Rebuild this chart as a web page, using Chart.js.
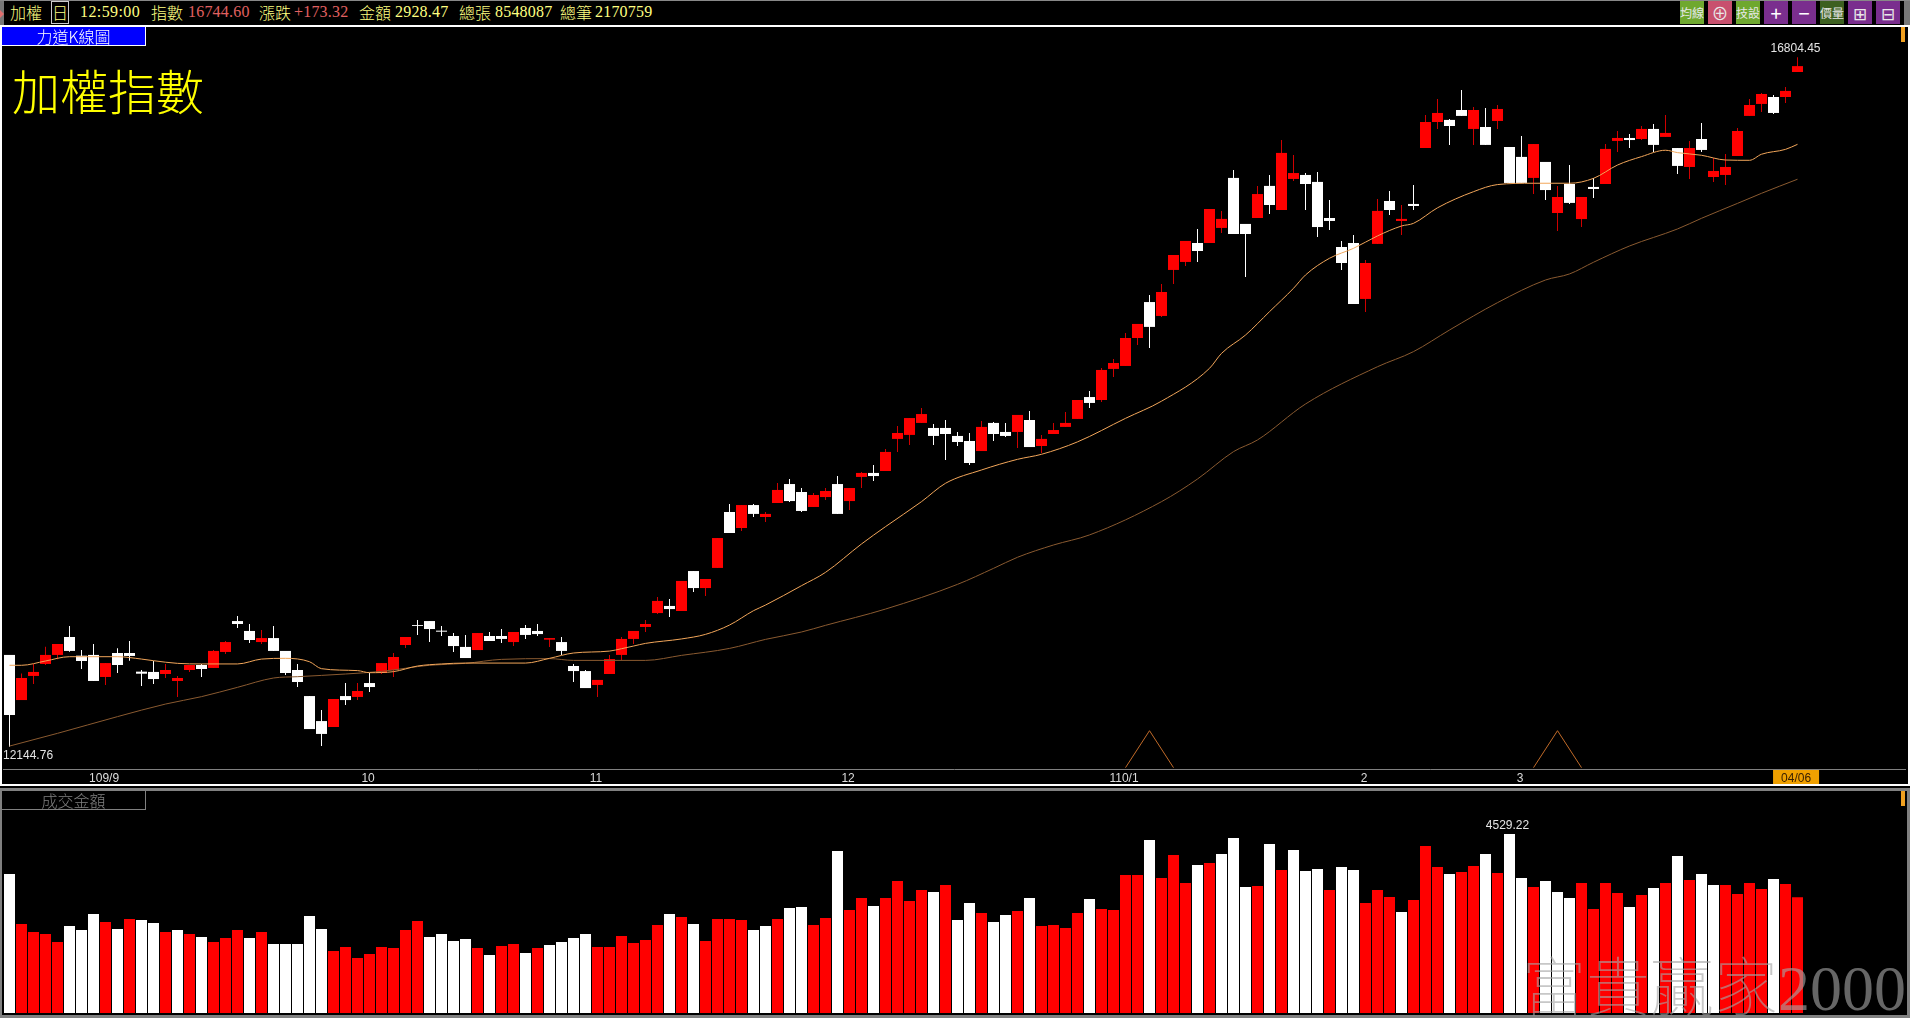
<!DOCTYPE html>
<html>
<head>
<meta charset="utf-8">
<title>加權指數</title>
<script src="https://cdn.jsdelivr.net/npm/chart.js@4/dist/chart.umd.js"></script>
<style>
  html, body { margin: 0; background: #000; overflow: hidden; }
  #page { position: relative; width: 1910px; height: 1018px; background: #000; overflow: hidden; }
  canvas { position: absolute; left: 0; }
  #priceChart { top: 27px; }
  #volChart { top: 791px; }
  .t { position: absolute; top: 3px; height: 18px; line-height: 18px; white-space: nowrap; font-size: 16px; color: #ffff80;
       font-family: "Noto Sans CJK TC", sans-serif; font-weight: 300; }
  .n { font-family: "Liberation Serif", serif; font-size: 16px; font-weight: 400; letter-spacing: 0.2px; }
  .dn { color: #e06060; }
  .btn { position: absolute; top: 1px; width: 24px; height: 23px; line-height: 23px; text-align: center; color: #e8e8e8; font-size: 14px;
         font-family: "Noto Sans CJK TC", sans-serif; overflow: hidden; }
  .frame { position: absolute; box-sizing: border-box; pointer-events: none; }
  .marker { position: absolute; left: 1901px; width: 4px; height: 15px; background: #f0a020; }
</style>
</head>
<body>
<div id="page">
  <canvas id="priceChart" width="1910" height="759"></canvas>
  <canvas id="volChart" width="1910" height="222"></canvas>

  <div class="frame" style="left:0;top:0;width:1910px;height:1px;background:#888"></div>
  <div class="frame" style="left:0;top:1px;width:4px;height:24px;background:#777"></div>
  <div class="frame" style="left:0;top:10px;width:0;height:0;border-left:4px solid #e07070;border-top:4px solid transparent;border-bottom:4px solid transparent"></div>
  <div class="frame" style="left:0;top:25px;width:1910px;height:761px;border:2px solid #fff"></div>
  <div class="frame" style="left:0;top:788px;width:1910px;height:230px;border:3px solid #808080;border-left-width:2px"></div>

  <span class="t" style="left:10px">加權</span>
  <div class="frame" style="left:51px;top:1px;width:18px;height:23px;border:1px solid #ccc"></div>
  <span class="t" style="left:52px">日</span>
  <span class="t n" style="left:80px;letter-spacing:0.4px">12:59:00</span>
  <span class="t" style="left:151px">指數</span>
  <span class="t n dn" style="left:188px">16744.60</span>
  <span class="t" style="left:259px">漲跌</span>
  <span class="t n dn" style="left:294px">+173.32</span>
  <span class="t" style="left:359px">金額</span>
  <span class="t n" style="left:395px">2928.47</span>
  <span class="t" style="left:459px">總張</span>
  <span class="t n" style="left:495px">8548087</span>
  <span class="t" style="left:560px">總筆</span>
  <span class="t n" style="left:595px">2170759</span>

  <div class="btn" style="left:1680px;background:#6fa82f;font-size:12px">均線</div>
  <div class="btn" style="left:1708px;background:#c8506e;font-size:17px">⊕</div>
  <div class="btn" style="left:1736px;background:#6fa82f;font-size:12px">技設</div>
  <div class="btn" style="left:1764px;background:#7a2e8e;font-size:20px;color:#fff">+</div>
  <div class="btn" style="left:1792px;background:#7a2e8e;font-size:20px;color:#fff">−</div>
  <div class="btn" style="left:1820px;background:#3d6020;font-size:12px">價量</div>
  <div class="btn" style="left:1848px;background:#7a2e8e;font-size:17px">⊞</div>
  <div class="btn" style="left:1876px;background:#7a2e8e;font-size:17px">⊟</div>
  <div class="frame" style="left:1904px;top:1px;width:6px;height:24px;background:#777"></div>

  <div style="position:absolute;left:2px;top:27px;width:144px;height:19px;box-sizing:border-box;background:#0000ff;border-right:1px solid #fff;border-bottom:1px solid #fff;color:#fff;text-align:center;font:300 16px/18px 'Noto Sans CJK TC',sans-serif">力道K線圖</div>
  <div style="position:absolute;left:12px;top:59px;color:#ffff00;font:300 48px/60px 'Noto Sans CJK TC',sans-serif;white-space:nowrap">加權指數</div>
  <div class="marker" style="top:27px"></div>

  <div style="position:absolute;left:2px;top:791px;width:144px;height:19px;box-sizing:border-box;border-right:1px solid #808080;border-bottom:1px solid #808080;color:#808080;text-align:center;font:300 16px/18px 'Noto Sans CJK TC',sans-serif">成交金額</div>
  <div class="marker" style="top:791px"></div>

  <div style="position:absolute;left:1522px;top:944px;color:rgba(165,165,165,.62);font:100 64px/76px 'Noto Sans CJK TC',serif;white-space:nowrap">富貴贏家<span style="font-family:'Liberation Serif',serif;font-weight:400">2000</span></div>
</div>

<script>
// daily candles (index points)
const openVals = [12765,12460,12623,12704,12765,12886,12760,12765,12616,12778,
  12778,12652,12650,12636,12589,12663,12697,12677,12785,12994,
  12927,12852,12879,12792,12663,12487,12318,12278,12487,12481,
  12575,12643,12663,12832,12967,12994,12929,12893,12819,12798,
  12893,12893,12852,12947,12927,12868,12852,12690,12656,12562,
  12636,12765,12873,12954,13048,13096,13062,13332,13217,13353,
  13731,13623,13778,13697,13792,13920,13866,13765,13832,13920,
  13805,13968,13995,14008,14225,14252,14333,14299,14299,14245,
  14211,14143,14333,14272,14272,14353,14177,14258,14306,14360,
  14508,14488,14698,14718,14907,15150,15056,15367,15421,15549,
  15549,15651,15989,15678,15718,15935,15772,15982,16009,15962,
  15718,15522,15549,15171,15543,15833,15698,15813,16191,16367,
  16381,16448,16320,16333,16374,16198,16131,15989,16097,15752,
  15948,15711,15928,15948,16239,16259,16252,16320,16266,16191,
  16063,16252,15995,16009,16137,16408,16489,16536,16536,16705];
const highVals = [12765,12640,12704,12821,12839,12961,12798,12839,12710,12810,
  12859,12663,12724,12704,12623,12697,12704,12798,12859,13028,
  12974,12934,12961,12792,12704,12487,12393,12467,12575,12575,
  12643,12710,12778,12886,13001,12994,12961,12913,12900,12913,
  12920,12940,12920,12967,12974,12879,12886,12704,12663,12596,
  12765,12886,12927,13001,13157,13143,13265,13332,13278,13555,
  13785,13778,13785,13731,13927,13954,13893,13860,13893,13974,
  13893,14001,14049,14157,14312,14366,14434,14326,14353,14272,
  14265,14346,14339,14333,14387,14414,14252,14333,14407,14488,
  14549,14704,14765,14941,15002,15198,15272,15468,15563,15644,
  15779,15766,16043,15678,15935,16009,16245,16144,16022,16029,
  15840,15563,15603,15434,15847,15901,15806,15941,16414,16523,
  16387,16583,16468,16462,16482,16198,16272,16218,16097,15935,
  16076,15860,15989,16218,16306,16286,16340,16354,16414,16191,
  16239,16360,16124,16151,16327,16523,16563,16550,16604,16804.45];
const lowVals = [12144.76,12460,12569,12697,12735,12787,12670,12589,12562,12643,
  12726,12555,12569,12609,12481,12650,12616,12677,12771,12947,
  12846,12839,12792,12629,12548,12264,12150,12278,12427,12460,
  12514,12636,12616,12812,12900,12852,12893,12785,12744,12798,
  12859,12846,12825,12873,12893,12819,12765,12582,12541,12481,
  12636,12731,12839,12920,13042,13021,13062,13190,13163,13353,
  13589,13603,13697,13663,13792,13799,13731,13765,13812,13718,
  13745,13893,13941,14008,14137,14184,14333,14184,14083,14177,
  14049,14143,14211,14238,14164,14170,14130,14258,14306,14360,
  14434,14475,14644,14718,14860,14840,15049,15272,15394,15421,
  15549,15617,15610,15319,15718,15745,15772,15968,15772,15590,
  15637,15367,15137,15083,15543,15738,15603,15772,16191,16320,
  16212,16408,16212,16212,16320,15955,15955,15880,15840,15630,
  15813,15657,15853,15948,16164,16191,16245,16164,16266,16016,
  15982,16164,15962,15941,16137,16408,16435,16421,16496,16705];
const closeVals = [12359,12609,12650,12765,12839,12792,12724,12589,12710,12697,
  12758,12638,12602,12663,12609,12697,12670,12792,12852,12974,
  12866,12879,12792,12643,12582,12264,12231,12467,12460,12521,
  12548,12710,12751,12886,12961,12940,12922,12825,12744,12913,
  12859,12873,12920,12900,12906,12879,12792,12656,12541,12596,
  12737,12873,12927,12974,13130,13075,13265,13217,13278,13555,
  13589,13778,13718,13718,13880,13805,13738,13846,13873,13718,
  13893,13995,13974,14137,14265,14366,14393,14245,14258,14204,
  14062,14306,14258,14245,14387,14170,14225,14285,14333,14488,
  14468,14691,14738,14907,15002,14982,15218,15468,15563,15495,
  15779,15712,15610,15610,15880,15806,16158,16022,15948,15657,
  15698,15414,15137,15414,15766,15772,15712,15799,16367,16428,
  16340,16408,16448,16212,16455,15955,15955,16218,15907,15860,
  15820,15860,15914,16185,16259,16245,16320,16212,16293,16070,
  16191,16178,16036,16063,16306,16482,16556,16428,16577,16744.60];

// turnover (億) and whether the bar is drawn red
const volumeVals = [3517,2252,2049,1999,1797,2201,2100,2505,2303,2125,
  2378,2353,2277,2049,2100,1999,1923,1797,1898,2100,
  1898,2049,1746,1746,1746,2454,2125,1569,1670,1392,
  1493,1670,1645,2100,2328,1923,1999,1822,1873,1645,
  1468,1695,1746,1518,1645,1721,1797,1898,1999,1670,
  1670,1948,1771,1847,2227,2505,2429,2252,1822,2378,
  2378,2353,2100,2201,2378,2657,2682,2227,2404,4099,
  2606,2910,2707,2910,3340,2834,3112,3062,3239,2353,
  2783,2530,2303,2480,2581,2910,2201,2227,2151,2530,
  2885,2631,2606,3492,3492,4377,3416,3998,3289,3745,
  3795,4023,4428,3188,3213,4276,3618,4124,3593,3643,
  3112,3694,3618,2783,3112,2935,2556,2859,4225,3694,
  3517,3568,3719,4023,3542,4529.22,3416,3188,3340,3062,
  2910,3289,2631,3289,3036,2682,2986,3163,3289,3972,
  3365,3517,3239,3239,3011,3289,3137,3391,3264,2928.47];
const volumeUp = [0,1,1,1,1,0,0,0,1,0,
  1,0,0,1,0,1,0,1,1,1,
  0,1,0,0,0,0,0,1,1,1,
  1,1,1,1,1,0,0,0,0,1,
  0,1,1,0,1,0,0,0,0,1,
  1,1,1,1,1,0,1,0,1,1,
  1,1,0,0,1,0,0,1,1,0,
  1,1,0,1,1,1,1,0,1,0,
  0,1,0,0,1,0,1,1,1,1,
  0,1,1,1,1,0,1,1,1,0,
  1,0,0,0,1,0,1,0,0,0,
  1,0,0,1,1,1,0,1,1,1,
  0,1,1,0,1,0,0,1,0,0,
  0,1,1,1,1,0,1,0,1,0,
  1,0,0,1,1,1,1,0,1,1];

// the two moving averages, read at the bends of each line
const maFastIdx = [0,1,3,5,9,11,12,14,16,19,21,23,25,26,29,30,32,34,36,38,43,45,47,50,51,52,53,56,58,60,62,63,66,68,71,73,76,78,81,84,86,89,93,96,100,101,103,105,107,108,110,112,114,116,117,119,122,124,127,130,132,134,136,138,139,141,143,145,146,148,149];
const maFastVals = [12695,12695,12724,12753,12753,12737,12726,12708,12704,12704,12737,12742,12719,12672,12659,12645,12652,12690,12704,12710,12710,12742,12778,12791,12807,12825,12843,12873,12904,12967,13064,13102,13233,13323,13515,13632,13801,13925,14015,14087,14121,14205,14364,14480,14702,14803,14927,15085,15243,15333,15446,15513,15597,15664,15682,15787,15896,15944,15953,15953,15986,16076,16133,16176,16160,16142,16110,16108,16149,16182,16216];
const maSlowIdx = [0,4,9,13,16,19,22,24,28,31,35,38,41,45,47,53,56,60,63,66,68,73,79,82,84,87,90,96,99,102,104,108,114,117,120,124,128,130,132,135,139,141,144,146,149];
const maSlowVals = [12149,12235,12348,12433,12483,12546,12609,12618,12636,12654,12695,12708,12735,12740,12728,12728,12762,12809,12870,12920,12965,13075,13242,13350,13425,13508,13576,13801,13954,14139,14218,14461,14713,14815,14961,15146,15299,15340,15419,15529,15644,15716,15817,15885,15980];

// the two small peak marks above the date axis
const peakOneIdx = [93,95,97];
const peakTwoIdx = [127,129,131];
const peakVals = [12003,12253,12003];

const tickPos = [7.88,29.88,48.88,69.88,92.88,112.88,125.88,148.88];
const tickLabels = ["109/9","10","11","12","110/1","2","3","04/06"];

const RED = "#ff0000", WHITE = "#ffffff";
const xMin = (3 - 9.5) / 12, xMax = (1905 - 9.5) / 12;
const labelFont = "12px 'Liberation Sans', Arial, sans-serif";

function isUp(i) { return closeVals[i] >= openVals[i]; }

function lineSet(xs, ys, color, smooth) {
  return {
    type: "line",
    data: xs.map((x, i) => ({ x: x, y: ys[i] })),
    borderColor: color,
    borderWidth: 1,
    pointRadius: 0,
    cubicInterpolationMode: smooth ? "monotone" : "default",
    tension: 0,
    order: 0
  };
}

// text next to the extreme points, placed through the scales
const extremeLabels = {
  id: "extremeLabels",
  afterDatasetsDraw(chart, args, opts) {
    const ctx = chart.ctx;
    ctx.save();
    ctx.font = labelFont;
    ctx.fillStyle = "#e4e4e4";
    ctx.textBaseline = "middle";
    opts.items.forEach(it => {
      ctx.textAlign = it.align;
      const x = it.px !== undefined ? it.px : chart.scales.x.getPixelForValue(it.idx) - 2;
      ctx.fillText(it.text, x, chart.scales.y.getPixelForValue(it.value) + it.dy);
    });
    ctx.restore();
  }
};

const priceChart = new Chart(document.getElementById("priceChart"), {
  type: "bar",
  plugins: [extremeLabels],
  data: {
    datasets: [
      lineSet(maFastIdx, maFastVals, "#f2a65a", true),
      lineSet(maSlowIdx, maSlowVals, "#8a5a30", true),
      lineSet(peakOneIdx, peakVals, "#c06a28", false),
      lineSet(peakTwoIdx, peakVals, "#c06a28", false),
      {
        data: openVals.map((o, i) => ({ x: i, y: [Math.min(o, closeVals[i]), Math.max(o, closeVals[i])] })),
        backgroundColor: openVals.map((o, i) => isUp(i) ? RED : WHITE),
        barThickness: 11,
        order: 1
      },
      {
        data: openVals.map((o, i) => ({ x: i, y: [lowVals[i], highVals[i]] })),
        backgroundColor: openVals.map((o, i) => isUp(i) ? "#d00000" : WHITE),
        barThickness: 1,
        order: 2
      }
    ]
  },
  options: {
    responsive: false,
    animation: false,
    devicePixelRatio: 1,
    layout: { padding: { left: 3, right: 5, top: 0, bottom: 0 } },
    datasets: { bar: { grouped: false, borderWidth: 0, inflateAmount: 0 } },
    plugins: {
      legend: { display: false },
      tooltip: { enabled: false },
      extremeLabels: {
        items: [
          { text: "16804.45", idx: 149, value: 16804.45, dy: -9, align: "center" },
          { text: "12144.76", px: 3, value: 12144.76, dy: 9, align: "left" }
        ]
      }
    },
    scales: {
      x: {
        type: "linear",
        min: xMin,
        max: xMax,
        offset: false,
        grid: { display: false, drawTicks: false },
        border: { display: true, color: "#808080", width: 1 },
        afterBuildTicks: s => { s.ticks = tickPos.map(v => ({ value: v })); },
        afterFit: s => { s.height = 17; },
        ticks: {
          autoSkip: false,
          maxRotation: 0,
          padding: 2,
          font: { family: "'Liberation Sans', Arial, sans-serif", size: 12 },
          color: c => c.index === tickPos.length - 1 ? "#3a2000" : "#dcdcdc",
          showLabelBackdrop: c => c.index === tickPos.length - 1,
          backdropColor: "#f0a000",
          backdropPadding: { left: 8, right: 8, top: 1, bottom: 1 },
          callback: v => tickLabels[tickPos.indexOf(v)]
        }
      },
      y: { display: false, min: 11994, max: 17009 }
    }
  }
});

const volChart = new Chart(document.getElementById("volChart"), {
  type: "bar",
  plugins: [extremeLabels],
  data: {
    datasets: [{
      data: volumeVals.map((v, i) => ({ x: i, y: v })),
      backgroundColor: volumeUp.map(u => u ? RED : WHITE),
      barThickness: 11
    }]
  },
  options: {
    responsive: false,
    animation: false,
    devicePixelRatio: 1,
    layout: { padding: { left: 3, right: 5, top: 0, bottom: 0 } },
    datasets: { bar: { grouped: false, borderWidth: 0, inflateAmount: 0 } },
    plugins: {
      legend: { display: false },
      tooltip: { enabled: false },
      extremeLabels: {
        items: [{ text: "4529.22", idx: 125, value: 4529.22, dy: -8, align: "center" }]
      }
    },
    scales: {
      x: { type: "linear", display: false, min: xMin, max: xMax, offset: false },
      y: { display: false, min: 0, max: 5617 }
    }
  }
});
</script>
</body>
</html>
